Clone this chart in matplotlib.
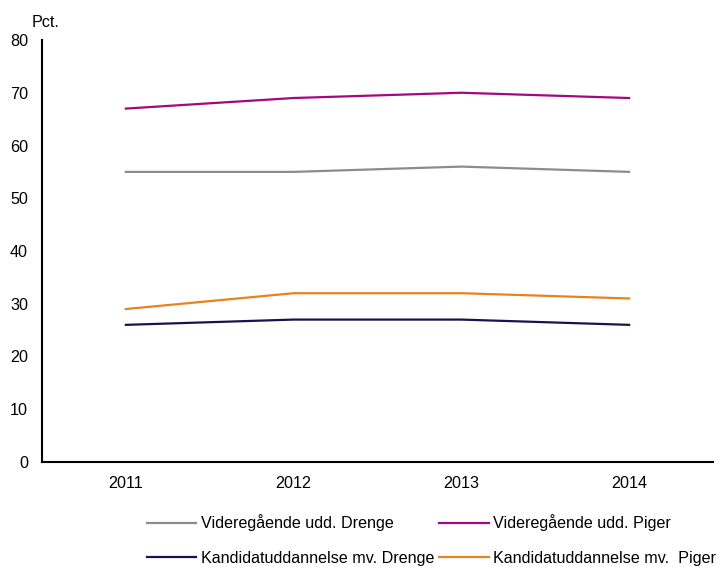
import matplotlib
matplotlib.use("Agg")
import matplotlib.pyplot as plt

plt.rcParams['font.family'] = ['Liberation Sans', 'DejaVu Sans']

years = ["2011", "2012", "2013", "2014"]
vid_drenge = [55, 55, 56, 55]
vid_piger = [67, 69, 70, 69]
kand_drenge = [26, 27, 27, 26]
kand_piger = [29, 32, 32, 31]
yticks = [0, 10, 20, 30, 40, 50, 60, 70, 80]

FS = 11.6

fig = plt.figure(figsize=(7.23, 5.67), dpi=100)
ax = fig.add_axes([42/723, 1-462/567, (713-42)/723, (462-40)/567])

x = [i + 0.5 for i in range(len(years))]
l1, = ax.plot(x, vid_drenge, color="#8c8c8c", lw=1.6, label="Videregående udd. Drenge")
l2, = ax.plot(x, vid_piger, color="#a3087f", lw=1.6, label="Videregående udd. Piger")
l3, = ax.plot(x, kand_drenge, color="#16144c", lw=1.6, label="Kandidatuddannelse mv. Drenge")
l4, = ax.plot(x, kand_piger, color="#e8821e", lw=1.6, label="Kandidatuddannelse mv.  Piger")

ax.set_xlim(0, 4)
ax.set_ylim(0, 80)
ax.set_xticks(x)
ax.set_xticklabels(years)
ax.set_yticks(yticks)
ax.tick_params(axis='both', length=0, labelsize=FS, colors='black')
ax.tick_params(axis='y', pad=10)
ax.tick_params(axis='x', pad=10)
for s in ['top', 'right']:
    ax.spines[s].set_visible(False)
for s in ['left', 'bottom']:
    ax.spines[s].set_linewidth(1.5)
    ax.spines[s].set_color('black')

fig.text(32/723, 1-27/567, "Pct.", fontsize=FS, ha='left', va='baseline')

leg = fig.legend(handles=[l1, l3, l2, l4], ncol=2, loc='center left',
                 bbox_to_anchor=(132/723, 1-540/567), frameon=False,
                 fontsize=FS, handlelength=3.1, handletextpad=0.3,
                 columnspacing=0.25, labelspacing=1.2)

fig.savefig("out.png", dpi=100)
